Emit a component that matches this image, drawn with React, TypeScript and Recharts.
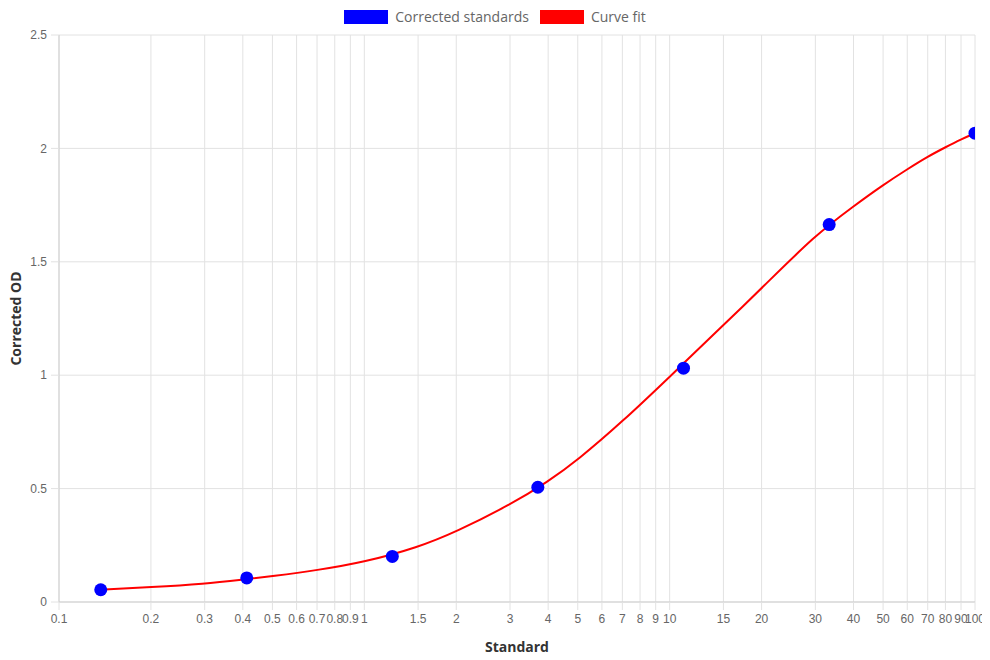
import React from 'react';
import { ComposedChart, Line, Scatter, XAxis, YAxis, CartesianGrid, Legend } from 'recharts';

// Corrected standards (measured points)
const standardX = [0.137, 0.412, 1.235, 3.7, 11.1, 33.3, 100];
const standardOD = [0.054, 0.106, 0.201, 0.506, 1.031, 1.664, 2.067];

// Curve fit
const fitX = [0.137, 0.2, 0.3, 0.4, 0.5, 0.7, 1, 1.5, 2, 3, 4, 5, 7, 10, 15, 20, 30, 40, 50, 60, 70, 80, 90, 100];
const fitOD = [0.054, 0.065, 0.080, 0.099, 0.114, 0.140, 0.176, 0.241, 0.310, 0.428, 0.531, 0.626, 0.795, 0.993, 1.221, 1.383, 1.618, 1.745, 1.839, 1.908, 1.964, 2.005, 2.040, 2.067];

const xTicks = [0.1, 0.2, 0.3, 0.4, 0.5, 0.6, 0.7, 0.8, 0.9, 1, 1.5, 2, 3, 4, 5, 6, 7, 8, 9, 10, 15, 20, 30, 40, 50, 60, 70, 80, 90, 100];
const yTicks = [0, 0.5, 1, 1.5, 2, 2.5];

const seriesNames = ['Corrected standards', 'Curve fit'];
const seriesColors = ['#0000ff', '#ff0000'];

const standards = standardX.map((x, i) => ({ x, y: standardOD[i] }));
const fit = fitX.map((x, i) => ({ x, y: fitOD[i] }));

const W = 982;
const H = 650;
const titleFont = '"Open Sans", Inter, sans-serif';
const tickFont = '"Liberation Sans", Arial, sans-serif';

const LegendContent = () => (
  <div style={{ height: 27, width: 974, display: 'flex', justifyContent: 'center', alignItems: 'flex-start', paddingTop: 2, boxSizing: 'border-box' }}>
    {seriesNames.map((name, i) => (
      <div key={name} style={{ display: 'flex', alignItems: 'center', marginRight: i === 0 ? 11 : 0 }}>
        <div style={{ width: 44, height: 14, background: seriesColors[i], marginRight: 7 }} />
        <span style={{ fontFamily: titleFont, fontSize: 14, color: '#666', lineHeight: '14px' }}>{name}</span>
      </div>
    ))}
  </div>
);

const YTitle = (props: any) => {
  const vb = props.viewBox || { x: 0, y: 0, width: 0, height: 0 };
  const cx = vb.x + 7;
  const cy = vb.y + vb.height / 2;
  return (
    <text x={cx} y={cy} transform={`rotate(-90 ${cx} ${cy})`} textAnchor="middle" dominantBaseline="central"
      style={{ fontFamily: titleFont, fontSize: 14, fontWeight: 700, fill: '#333' }}>Corrected OD</text>
  );
};

const XTitle = (props: any) => {
  const vb = props.viewBox || { x: 0, y: 0, width: 0, height: 0 };
  const cx = vb.x + vb.width / 2;
  const cy = vb.y + vb.height - 12;
  return (
    <text x={cx} y={cy} textAnchor="middle" dominantBaseline="central"
      style={{ fontFamily: titleFont, fontSize: 14, fontWeight: 700, fill: '#333' }}>Standard</text>
  );
};

const Dot = (p: any) => <circle cx={p.cx} cy={p.cy} r={6.5} fill="#0000ff" />;

export default function App() {
  return (
    <ComposedChart width={W} height={H} margin={{ top: 0, right: 15, bottom: 0, left: 0 }}>
      <Legend verticalAlign="top" align="center" content={<LegendContent />} wrapperStyle={{ top: 0, left: 0, width: 974, height: 27 }} />
      <CartesianGrid stroke="#e2e2e2" />
      <XAxis
        type="number"
        dataKey="x"
        scale="log"
        domain={[0.1, 100]}
        allowDataOverflow
        ticks={xTicks}
        interval={0}
        height={56}
        tickSize={8}
        tickMargin={4}
        stroke="#cfcfcf"
        tickLine={{ stroke: '#e2e2e2' }}
        tick={{ fontFamily: tickFont, fontSize: 12, fill: '#666' }}
        label={<XTitle />}
      />
      <YAxis
        type="number"
        dataKey="y"
        domain={[0, 2.5]}
        ticks={yTicks}
        interval={0}
        width={51}
        tickSize={8}
        tickMargin={4}
        stroke="#cfcfcf"
        tickLine={{ stroke: '#e2e2e2' }}
        tick={{ fontFamily: tickFont, fontSize: 12, fill: '#666' }}
        label={<YTitle />}
      />
      <Line data={fit} dataKey="y" name={seriesNames[1]} type="basis" stroke="#ff0000" strokeWidth={2} dot={false} activeDot={false} isAnimationActive={false} />
      <Scatter data={standards} dataKey="y" name={seriesNames[0]} fill="#0000ff" shape={<Dot />} isAnimationActive={false} />
    </ComposedChart>
  );
}
